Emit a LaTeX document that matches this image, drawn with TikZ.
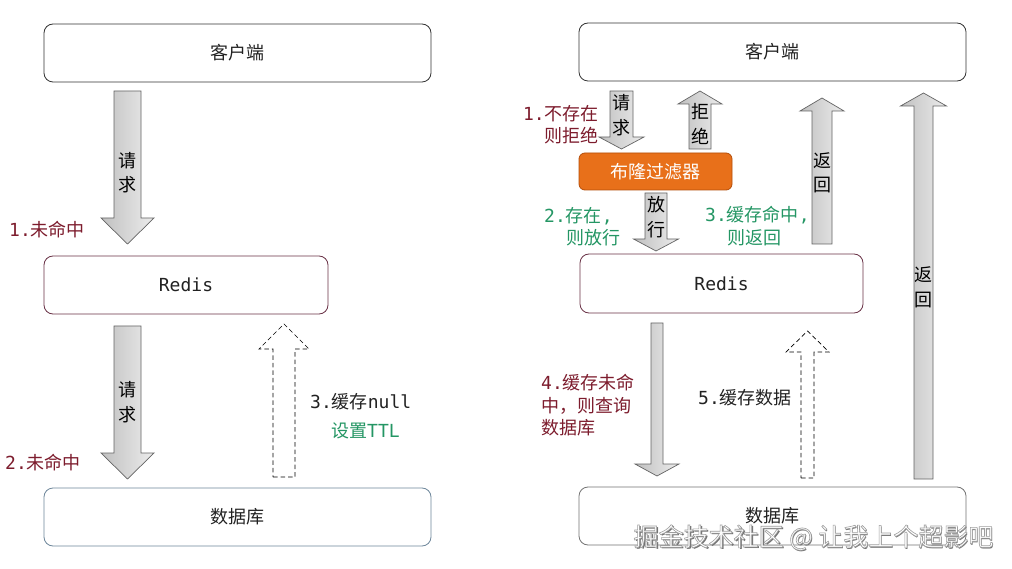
\documentclass[tikz,border=0pt]{standalone}
\usepackage{fontspec}
\newfontfamily\cjk{Noto Sans CJK SC}
\newfontfamily\mono{DejaVu Sans Mono}
\definecolor{txt}{HTML}{222222}
\definecolor{dred}{RGB}{125,28,45}
\definecolor{dgreen}{RGB}{36,150,100}
\definecolor{orf}{RGB}{232,112,26}
\definecolor{ord}{RGB}{180,78,10}
\definecolor{agl}{RGB}{192,192,192}
\definecolor{agr}{RGB}{236,236,236}
\definecolor{aline}{RGB}{100,100,100}
\newcommand\fs{\fontsize{18}{22}\selectfont}
\newcommand\fsv{\fontsize{18}{24.5}\selectfont}
% cx, ystart, yheadbase, ytip, halfshaft, halfhead, style
\newcommand\blkarrow[7]{%
  \path[#7] ({#1-#5},#2) -- ({#1+#5},#2) -- ({#1+#5},#3) -- ({#1+#6},#3)
    -- (#1,#4) -- ({#1-#6},#3) -- ({#1-#5},#3) -- cycle;}
\begin{document}
\begin{tikzpicture}[x=1pt,y=-1pt,
  box/.style={rounded corners=9pt,line width=0.8pt,fill=white,inner sep=0pt,
    font=\cjk\fs,text=txt},
  solidarrow/.style={draw=aline,line width=0.7pt,left color=agl,right color=agr},
  dasharrow/.style={draw=black,line width=0.7pt,dashed,dash pattern=on 4.5pt off 3pt,fill=white},
  albl/.style={font=\cjk\fsv,text=black,align=center,inner sep=0pt},
  lbl/.style={font=\cjk\fs,inner sep=0pt,anchor=west}]
\useasboundingbox (0,0) rectangle (1012,569);
\fill[white] (0,0) rectangle (1012,569);

% ---------- left panel ----------
\node[box,draw=black!80,minimum width=387pt,minimum height=58pt] (c1) at (237.5,53) {客户端};
\node[box,draw={rgb,255:red,105;green,50;blue,70},minimum width=284pt,minimum height=58pt] (r1) at (186,285) {{\mono Redis}};
\node[box,draw={rgb,255:red,110;green,135;blue,155},minimum width=387pt,minimum height=58pt] (d1) at (237.5,517) {数据库};

\blkarrow{127.5}{91}{218}{244}{13.5}{26.5}{solidarrow}
\node[albl] (l1a) at (127.5,172.5) {请\\求};
\blkarrow{127.5}{326}{453}{479}{13.5}{26.5}{solidarrow}
\node[albl] (l2a) at (127.5,402) {请\\求};
\blkarrow{284}{477}{349}{324}{11}{25}{dasharrow}

\node[lbl,text=dred] (m1) at (9,230) {{\mono 1.}未命中};
\node[lbl,text=dred] (m2) at (5,463) {{\mono 2.}未命中};
\node[lbl,text=txt] (m3) at (310,402) {{\mono 3.}缓存{\mono null}};
\node[lbl,text=dgreen] (m4) at (331,431) {设置{\mono TTL}};

% ---------- right panel ----------
\node[box,draw=black!80,minimum width=387pt,minimum height=58pt] (c2) at (772.5,52) {客户端};
\node[box,draw={rgb,255:red,105;green,50;blue,70},minimum width=283pt,minimum height=59pt] (r2) at (721.5,283.5) {{\mono Redis}};
\node[box,draw=black!55,minimum width=387pt,minimum height=58pt] (d2) at (772.5,516) {数据库};
\node[box,rounded corners=6pt,draw=ord,fill=orf,text=white,minimum width=153pt,minimum height=37pt] (bf) at (655.5,171.5) {布隆过滤器};

\blkarrow{621.5}{91}{137}{149}{11.5}{22.5}{solidarrow}
\node[albl] (ra1) at (621.5,115) {请\\求};
\blkarrow{700}{149}{104}{91}{11}{22}{solidarrow}
\node[albl] (ra2) at (700,124) {拒\\绝};
\blkarrow{656}{193}{239}{251}{11}{22.5}{solidarrow}
\node[albl] (ra3) at (656,217) {放\\行};
\blkarrow{822}{244}{111}{98}{10}{22}{solidarrow}
\node[albl] (ra4) at (822,173) {返\\回};
\blkarrow{923.5}{479}{106}{93}{9.5}{23}{solidarrow}
\node[albl] (ra5) at (923.5,287.5) {返\\回};
\blkarrow{657}{323}{464}{476}{6}{22}{solidarrow}
\blkarrow{807.5}{478}{352}{331}{6.5}{21.5}{dasharrow}

\node[font=\cjk\fs,text=dred,align=right,inner sep=0pt,anchor=east] (n1) at (599,125) {{\mono 1.}不存在\\则拒绝};
\node[lbl,text=dgreen] (n2a) at (544,216) {{\mono 2.}存在{\mono ,}};
\node[lbl,text=dgreen] (n2b) at (566,238) {则放行};
\node[lbl,text=dgreen] (n3a) at (705,215) {{\mono 3.}缓存命中{\mono ,}};
\node[lbl,text=dgreen] (n3b) at (727,238) {则返回};
\node[font=\cjk\fontsize{18}{22.5}\selectfont,text=dred,align=left,inner sep=0pt,anchor=west] (n4) at (541,405.5) {{\mono 4.}缓存未命\\中，则查询\\数据库};
\node[lbl,text=txt] (n5) at (698,398) {{\mono 5.}缓存数据};

% ---------- watermark ----------
\node[font=\cjk\fontsize{25}{29}\selectfont,text=black!55,inner sep=0pt] (wms) at (815,539) {掘金技术社区 @ 让我上个超影吧};
\node[font=\cjk\fontsize{25}{29}\selectfont,text=white,inner sep=0pt] (wm) at (813.5,537.5) {\special{pdf:literal direct 0.62 G 0.6 w 2 Tr}掘金技术社区 @ 让我上个超影吧\special{pdf:literal direct 0 Tr}};
\end{tikzpicture}
\end{document}
